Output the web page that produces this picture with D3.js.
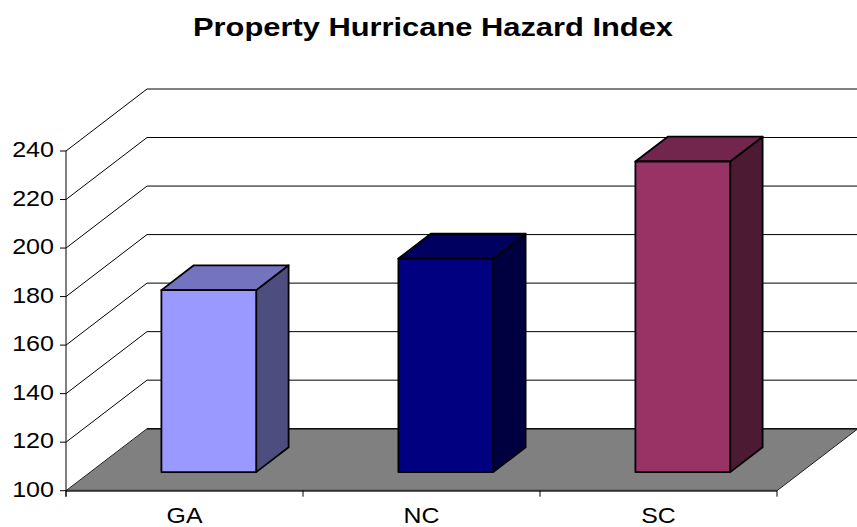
<!DOCTYPE html>
<html><head><meta charset="utf-8">
<script src="https://cdn.jsdelivr.net/npm/d3@7/dist/d3.min.js"></script>
<style>body{margin:0;background:#fff}svg{display:block}text{font-family:"Liberation Sans",Arial,sans-serif}</style>
</head><body><svg id="c" width="857" height="527"></svg>
<script>
const title = "Property Hurricane Hazard Index";
const categories = ["GA", "NC", "SC"];
const values = [175, 188, 228];
const yTicks = [100, 120, 140, 160, 180, 200, 220, 240];
const frontColors = ["#9999FF", "#000080", "#993366"];

(function () {
const svg = d3.select("#c");
const W = 857;
const pLeft = 66, pRight = 777, pBottom = 490.7, pTop = 151;
const DX = 81, DY = -62;      // full depth offset
const d0 = 0.3, d1 = 0.7;     // bar depth range

const y = d3.scaleLinear().domain([100, 240]).range([pBottom, pTop]);
const x = d3.scaleBand().domain(categories).range([pLeft, pRight]).paddingInner(0.6).paddingOuter(0.3);
const xc = d3.scalePoint().domain(d3.range(categories.length + 1)).range([pLeft, pRight]);

const P = (px, py, d) => [px + DX * d, py + DY * d];
const line = d3.line();
const label = (tx, ty, sx, size, anchor, str) =>
  svg.append("text").attr("transform", `translate(${tx},${ty}) scale(${sx},1)`)
    .attr("text-anchor", anchor).attr("font-size", size).text(str);

// title
svg.append("text").attr("x", 433).attr("y", 35.5).attr("text-anchor", "middle")
  .attr("font-size", 25).attr("font-weight", "bold")
  .attr("textLength", 480).attr("lengthAdjust", "spacingAndGlyphs").text(title);

// back wall gridlines
const g = svg.append("g");
yTicks.forEach(v => {
  const yy = y(v);
  g.append("path").attr("d", line([P(pLeft, yy, 1), [W + 2, yy + DY]]))
    .attr("stroke", "#000").attr("stroke-width", 1).attr("fill", "none");
  if (v > 100) {
    g.append("path").attr("d", line([[pLeft, yy], P(pLeft, yy, 1)]))
      .attr("stroke", "#000").attr("stroke-width", 1).attr("fill", "none");
  }
});

// floor
const fl = [[pLeft, pBottom], [pRight, pBottom], P(pRight, pBottom, 1), P(pLeft, pBottom, 1)];
g.append("path").attr("d", line(fl) + "Z").attr("fill", "#808080").attr("stroke", "#222").attr("stroke-width", 1);
g.append("path").attr("d", line([P(pLeft, pBottom, 1), [W + 2, pBottom + DY]])).attr("stroke", "#111").attr("stroke-width", 1.6);
g.append("path").attr("d", line([[pLeft, pBottom], [pRight, pBottom]])).attr("stroke", "#333").attr("stroke-width", 2);

// bars
const shade = (c, k) => { const r = d3.rgb(c); return d3.rgb(r.r * k, r.g * k, r.b * k).formatHex(); };
categories.forEach((c, i) => {
  const x0 = x(c), x1 = x(c) + x.bandwidth();
  const yb = y(100), yt = y(values[i]);
  const bars = svg.append("g").attr("stroke", "#000").attr("stroke-width", 1.8).attr("stroke-linejoin", "round");
  bars.append("path").attr("d", line([P(x1, yb, d0), P(x1, yb, d1), P(x1, yt, d1), P(x1, yt, d0)]) + "Z")
    .attr("fill", shade(frontColors[i], 0.5));
  bars.append("path").attr("d", line([P(x0, yt, d0), P(x1, yt, d0), P(x1, yt, d1), P(x0, yt, d1)]) + "Z")
    .attr("fill", shade(frontColors[i], 0.75));
  bars.append("path").attr("d", line([P(x0, yb, d0), P(x1, yb, d0), P(x1, yt, d0), P(x0, yt, d0)]) + "Z")
    .attr("fill", frontColors[i]);
});

// y axis
const ax = svg.append("g").attr("stroke", "#000").attr("stroke-width", 1);
ax.append("line").attr("x1", pLeft).attr("x2", pLeft).attr("y1", pTop).attr("y2", pBottom + 6);
yTicks.forEach(v => {
  ax.append("line").attr("x1", pLeft - 6).attr("x2", pLeft).attr("y1", y(v)).attr("y2", y(v));
  label(54, y(v) + 6, 1.14, 22, "end", v);
});
xc.domain().forEach(k => {
  ax.append("line").attr("x1", xc(k)).attr("x2", xc(k)).attr("y1", pBottom).attr("y2", pBottom + 6);
});
categories.forEach(c => {
  label(x(c) + x.bandwidth() / 2, 522.5, 1.13, 22, "middle", c);
});
})();
</script></body></html>
